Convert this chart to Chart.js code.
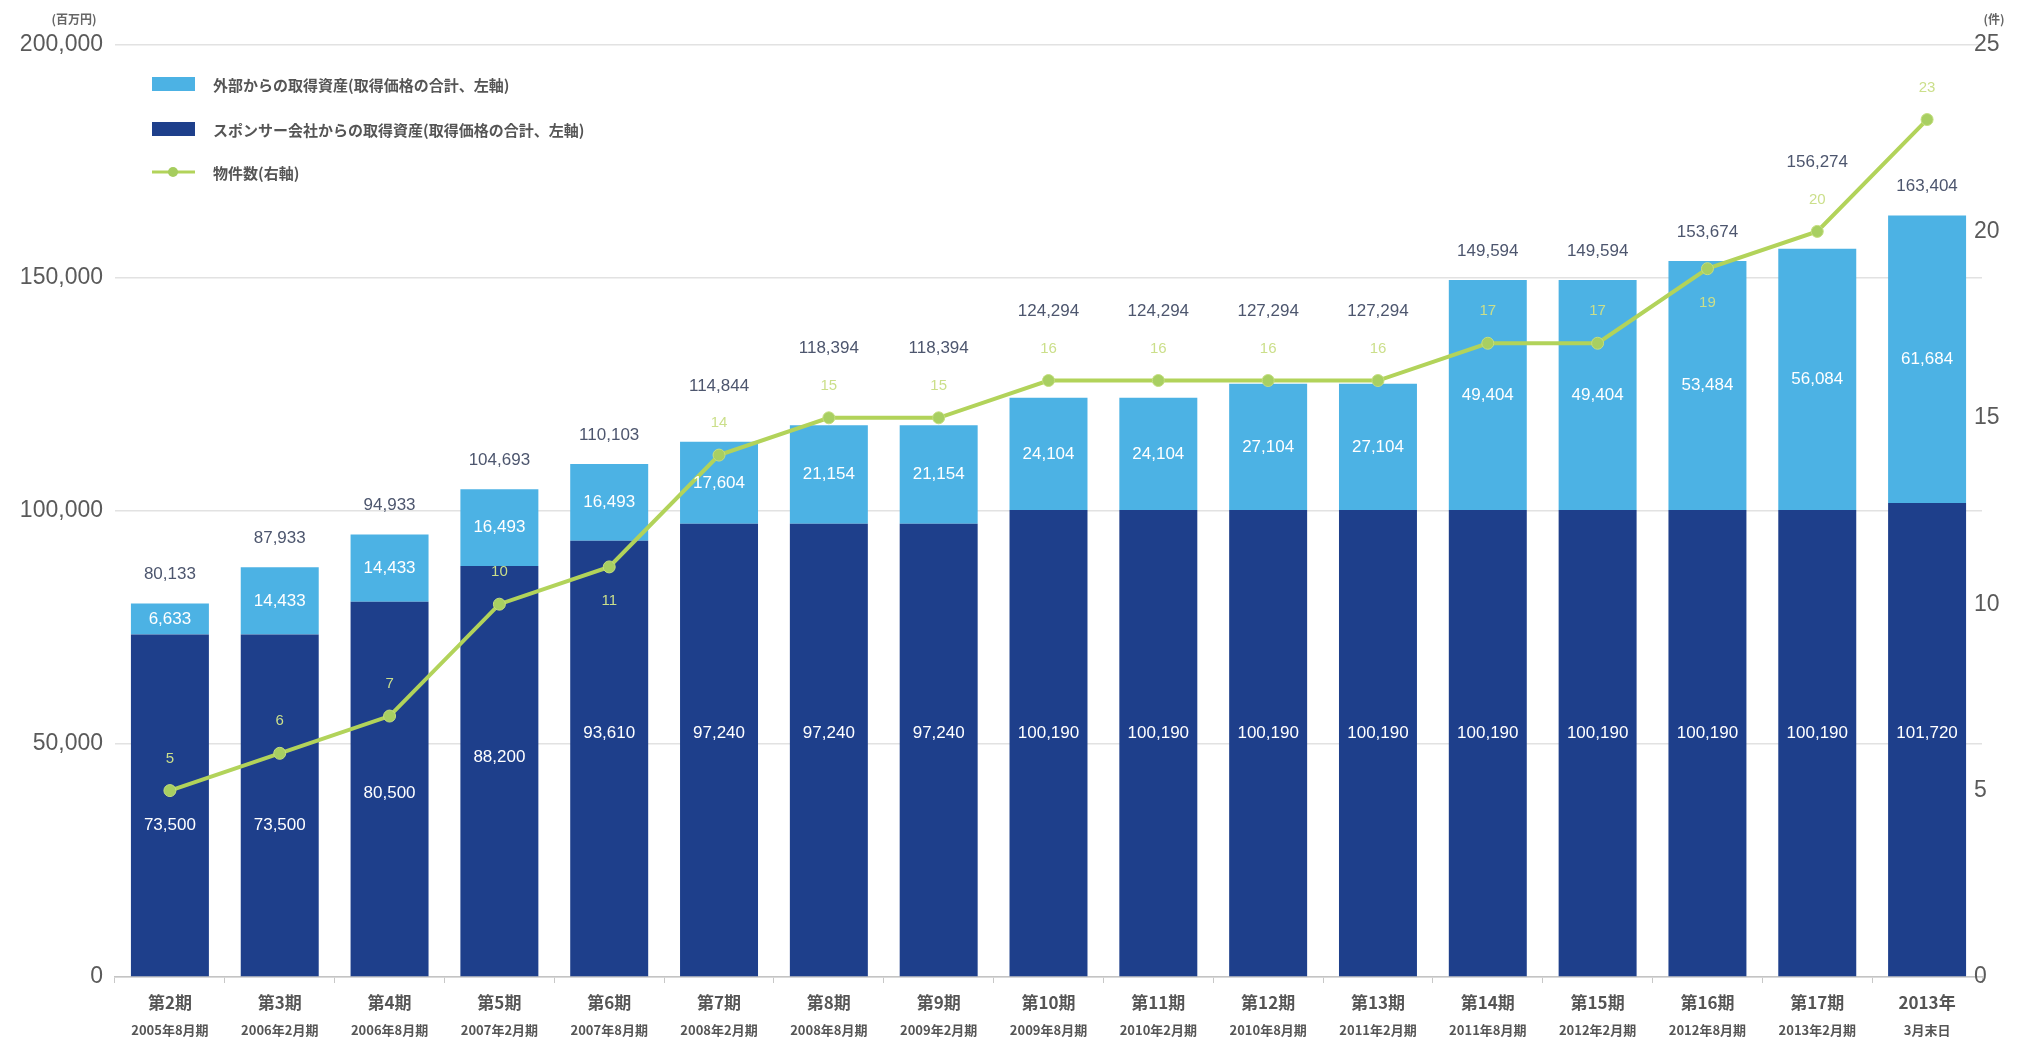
<!DOCTYPE html>
<html>
<head>
<meta charset="utf-8">
<script src="https://cdn.jsdelivr.net/npm/chart.js@4.4.0/dist/chart.umd.min.js"></script>
<style>
  html, body { margin: 0; padding: 0; background: #fff; }
  #wrap { width: 2027px; height: 1041px; }
</style>
</head>
<body>
<div id="wrap"><canvas id="assetChart"></canvas></div>
<script>
// periods (two lines per label)
const periods = ['第2期', '第3期', '第4期', '第5期', '第6期', '第7期', '第8期', '第9期', '第10期',
  '第11期', '第12期', '第13期', '第14期', '第15期', '第16期', '第17期', '2013年'];
const periodDates = ['2005年8月期', '2006年2月期', '2006年8月期', '2007年2月期', '2007年8月期',
  '2008年2月期', '2008年8月期', '2009年2月期', '2009年8月期', '2010年2月期', '2010年8月期',
  '2011年2月期', '2011年8月期', '2012年2月期', '2012年8月期', '2013年2月期', '3月末日'];

// 百万円
const sponsorAssets = [73500, 73500, 80500, 88200, 93610, 97240, 97240, 97240, 100190,
  100190, 100190, 100190, 100190, 100190, 100190, 100190, 101720];
const externalAssets = [6633, 14433, 14433, 16493, 16493, 17604, 21154, 21154, 24104,
  24104, 27104, 27104, 49404, 49404, 53484, 56084, 61684];
// 件
const propertyCount = [5, 6, 7, 10, 11, 14, 15, 15, 16, 16, 16, 16, 17, 17, 19, 20, 23];

const leftTicks = [0, 50000, 100000, 150000, 200000];
const rightTicks = [0, 5, 10, 15, 20, 25];

const NAVY = '#1e3f8b';
const SKY = '#4cb2e4';
const LIME = '#b2d35a';
const FONT = "'Liberation Sans', 'Noto Sans CJK JP', sans-serif";
const JFONT = "'Noto Sans CJK JP', 'Liberation Sans', sans-serif";

const fmt = v => v.toLocaleString('en-US');

// count labels that go under the point instead of above it
const countBelow = [4, 14];

const labelPlugin = {
  id: 'labels',
  afterDatasetsDraw(chart) {
    const ctx = chart.ctx;
    const xs = chart.scales.x, ys = chart.scales.y, y1 = chart.scales.y1;
    ctx.save();
    ctx.textAlign = 'center';
    ctx.textBaseline = 'middle';
    periods.forEach((p, i) => {
      const px = xs.getPixelForValue(i);
      const total = sponsorAssets[i] + externalAssets[i];
      const barTop = ys.getPixelForValue(total);

      // white figures inside both segments
      ctx.font = '17px ' + FONT;
      ctx.fillStyle = '#ffffff';
      ctx.fillText(fmt(sponsorAssets[i]), px, ys.getPixelForValue(Math.min(sponsorAssets[i] - 41000, 52400)));
      ctx.fillText(fmt(externalAssets[i]), px, ys.getPixelForValue(sponsorAssets[i] + externalAssets[i] / 2));

      // property count near its point
      const pointY = y1.getPixelForValue(propertyCount[i]);
      const countY = countBelow.includes(i) ? pointY + 34 : pointY - 32;
      ctx.font = '15px ' + FONT;
      ctx.fillStyle = '#cbdf8a';
      ctx.fillText(String(propertyCount[i]), px, countY);

      // total above the bar, lifted over the count when they would collide
      let totalY = barTop - 29;
      if (countY < barTop && countY > barTop - 80) totalY = Math.min(totalY, countY - 37);
      ctx.font = '17px ' + FONT;
      ctx.fillStyle = '#4d566e';
      ctx.fillText(fmt(total), px, totalY);
    });
    ctx.restore();
  },
  afterDraw(chart) {
    const ctx = chart.ctx;
    const xs = chart.scales.x, y1 = chart.scales.y1;
    ctx.save();
    ctx.textAlign = 'center';
    ctx.textBaseline = 'middle';
    // category labels under the axis
    periods.forEach((p, i) => {
      const px = xs.getPixelForValue(i);
      ctx.fillStyle = '#555';
      ctx.font = 'bold 17px ' + JFONT;
      ctx.fillText(p, px, 1003);
      ctx.font = 'bold 13px ' + JFONT;
      ctx.fillText(periodDates[i], px, 1030);
    });
    // right axis figures
    ctx.textAlign = 'left';
    ctx.font = '23px ' + FONT;
    ctx.fillStyle = '#5a5a5a';
    rightTicks.forEach(t => ctx.fillText(String(t), 1974, y1.getPixelForValue(t)));
    // axis units
    ctx.textAlign = 'center';
    ctx.font = 'bold 12px ' + JFONT;
    ctx.fillStyle = '#666';
    ctx.fillText('(百万円)', 74, 19);
    ctx.fillText('(件)', 1994, 19);
    // legend
    const rows = [
      { text: '外部からの取得資産(取得価格の合計、左軸)', color: SKY, type: 'box' },
      { text: 'スポンサー会社からの取得資産(取得価格の合計、左軸)', color: NAVY, type: 'box' },
      { text: '物件数(右軸)', color: LIME, type: 'line' }
    ];
    const rowY = [84, 129, 172];
    ctx.textAlign = 'left';
    rows.forEach((r, k) => {
      const cy = rowY[k];
      if (r.type === 'box') {
        ctx.fillStyle = r.color;
        ctx.fillRect(152, cy - 7, 43, 14);
      } else {
        ctx.strokeStyle = r.color;
        ctx.lineWidth = 3;
        ctx.beginPath();
        ctx.moveTo(152, cy);
        ctx.lineTo(195, cy);
        ctx.stroke();
        ctx.fillStyle = '#a6cd5e';
        ctx.beginPath();
        ctx.arc(173, cy, 5, 0, Math.PI * 2);
        ctx.fill();
      }
      ctx.fillStyle = '#555';
      ctx.font = 'bold 15px ' + JFONT;
      ctx.fillText(r.text, 213, cy + 1);
    });
    ctx.restore();
  }
};

const ctx = document.getElementById('assetChart').getContext('2d');
const assetChart = new Chart(ctx, {
  type: 'bar',
  data: {
    labels: periods,
    datasets: [
      {
        type: 'line',
        label: '物件数(右軸)',
        data: propertyCount,
        yAxisID: 'y1',
        borderColor: LIME,
        borderWidth: 4,
        pointRadius: 6,
        pointBackgroundColor: '#a8cf62',
        pointBorderColor: '#c4de7e',
        pointBorderWidth: 1,
        tension: 0,
        order: 0
      },
      {
        label: 'スポンサー会社からの取得資産(取得価格の合計、左軸)',
        data: sponsorAssets,
        backgroundColor: NAVY,
        stack: 'assets',
        yAxisID: 'y',
        barPercentage: 0.71,
        categoryPercentage: 1.0,
        order: 1
      },
      {
        label: '外部からの取得資産(取得価格の合計、左軸)',
        data: externalAssets,
        backgroundColor: SKY,
        stack: 'assets',
        yAxisID: 'y',
        barPercentage: 0.71,
        categoryPercentage: 1.0,
        order: 1
      }
    ]
  },
  options: {
    responsive: true,
    maintainAspectRatio: false,
    animation: false,
    layout: { padding: { top: 45, left: 0, right: 0, bottom: 0 } },
    scales: {
      x: {
        stacked: true,
        offset: true,
        ticks: { display: false },
        grid: {
          offset: true,
          drawOnChartArea: false,
          drawTicks: true,
          tickLength: 6,
          color: '#c8c8c8'
        },
        border: { display: true, color: '#c4c4c4', width: 1.5 },
        afterFit: s => { s.height = 64; }
      },
      y: {
        stacked: true,
        position: 'left',
        min: 0,
        max: 200000,
        afterBuildTicks: s => { s.ticks = leftTicks.map(v => ({ value: v })); },
        ticks: {
          padding: 12,
          color: '#5a5a5a',
          font: { family: FONT, size: 23 },
          callback: v => fmt(v)
        },
        grid: { color: '#e2e2e2', lineWidth: 1.5, drawTicks: false },
        border: { display: false },
        afterFit: s => { s.width = 115; }
      },
      y1: {
        position: 'right',
        min: 0,
        max: 25,
        afterBuildTicks: s => { s.ticks = rightTicks.map(v => ({ value: v })); },
        ticks: { display: false },
        grid: { display: false, drawTicks: false },
        border: { display: false },
        afterFit: s => { s.width = 45; }
      }
    },
    plugins: {
      legend: { display: false },
      tooltip: { enabled: false }
    }
  },
  plugins: [labelPlugin]
});
</script>
</body>
</html>
